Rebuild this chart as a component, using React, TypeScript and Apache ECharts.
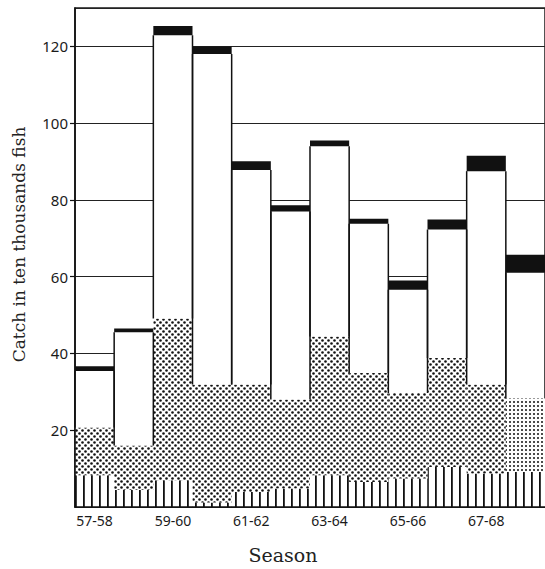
import React, { useEffect, useRef } from "react";
import * as echarts from "echarts";

// Seasons (every other one is labelled on the axis)
const seasons = [
  "57-58", "58-59", "59-60", "60-61", "61-62", "62-63",
  "63-64", "64-65", "65-66", "66-67", "67-68", "68-69",
];
// Catch components, in ten thousands of fish (bottom to top of each bar)
const hatchedCatch = [8.3, 4.4, 7.0, 1.2, 3.9, 4.8, 8.3, 6.5, 7.4, 10.4, 8.7, 9.1];
const stippledCatch = [12.4, 11.6, 42.1, 30.7, 28.0, 23.2, 36.1, 28.4, 22.3, 28.4, 23.2, 19.2];
const openCatch = [14.7, 29.5, 73.8, 86.1, 55.9, 49.0, 49.6, 38.9, 26.9, 33.5, 55.6, 32.7];
const blackCatch = [1.3, 1.0, 2.4, 2.0, 2.3, 1.6, 1.5, 1.3, 2.4, 2.6, 4.0, 4.7];
// y-axis tick labels
const yTicks = [20, 40, 60, 80, 100, 120];

function makePattern(w: number, h: number, draw: (ctx: CanvasRenderingContext2D) => void) {
  const c = document.createElement("canvas");
  c.width = w;
  c.height = h;
  const ctx = c.getContext("2d")!;
  ctx.fillStyle = "#ffffff";
  ctx.fillRect(0, 0, w, h);
  ctx.fillStyle = "#111111";
  draw(ctx);
  return c;
}

export default function App() {
  const ref = useRef<HTMLDivElement>(null);

  useEffect(() => {
    if (!ref.current) return;
    const chart = echarts.init(ref.current, null, { renderer: "svg" });

    const hatch = makePattern(8, 4, (ctx) => {
      ctx.fillRect(3, 0, 1.8, 4);
    });
    const stipple = makePattern(6, 6, (ctx) => {
      const pts = [
        [1.5, 1.5], [4.5, 4.5],
      ];
      pts.forEach(([x, y]) => {
        ctx.beginPath();
        ctx.arc(x, y, 1.3, 0, Math.PI * 2);
        ctx.fill();
      });
    });
    const gridDots = makePattern(4, 4, (ctx) => {
      ctx.beginPath();
      ctx.arc(2, 2, 1.0, 0, Math.PI * 2);
      ctx.fill();
    });

    const dotsTop = seasons.map((_, i) => hatchedCatch[i] + stippledCatch[i]);
    const openTop = seasons.map((_, i) => dotsTop[i] + openCatch[i]);

    const axisFont = { fontFamily: "Noto Sans", fontSize: 15, color: "#1a1a1a" };

    chart.setOption({
      animation: false,
      backgroundColor: "#ffffff",
      grid: {
        left: 75,
        top: 8,
        width: 475,
        height: 504,
        show: true,
        borderColor: "#1a1a1a",
        borderWidth: 1.5,
        backgroundColor: "transparent",
      },
      xAxis: {
        type: "category",
        data: seasons,
        z: 10,
        axisLine: { lineStyle: { color: "#111", width: 1.6 } },
        axisTick: { show: false },
        axisLabel: { interval: 1, margin: 6, ...axisFont, fontSize: 14 },
        name: "Season",
        nameLocation: "middle",
        nameGap: 38,
        nameTextStyle: {
          fontFamily: "DejaVu Serif",
          fontSize: 19,
          color: "#222",
          padding: [0, 54, 0, 0],
        },
      },
      yAxis: [
        {
          type: "value",
          min: 0,
          max: 130,
          interval: 20,
          z: 10,
          axisLine: { show: true, lineStyle: { color: "#111", width: 1.6 } },
          axisTick: {
            show: true,
            length: 5,
            customValues: yTicks,
            lineStyle: { color: "#111", width: 1.2 },
          },
          axisLabel: { margin: 7, customValues: yTicks, ...axisFont },
          splitLine: { show: false },
          name: "Catch in ten thousands fish",
          nameLocation: "middle",
          nameGap: 48,
          nameTextStyle: {
            fontFamily: "DejaVu Serif",
            fontSize: 17,
            color: "#222",
            padding: [0, 0, 0, 26],
          },
        },
        {
          type: "value",
          min: 0,
          max: 130,
          interval: 20,
          position: "left",
          z: 0,
          axisLine: { show: false },
          axisTick: { show: false },
          axisLabel: { show: false },
          splitLine: { show: true, lineStyle: { color: "#222", width: 1 } },
        },
      ],
      series: [
        {
          type: "bar",
          name: "hatched",
          stack: "catch",
          barWidth: "100%",
          barCategoryGap: "0%",
          data: hatchedCatch,
          itemStyle: { color: { image: hatch, repeat: "repeat" } },
        },
        {
          type: "bar",
          name: "stippled",
          stack: "catch",
          barWidth: "100%",
          data: stippledCatch.map((v, i) =>
            i === seasons.length - 1
              ? { value: v, itemStyle: { color: { image: gridDots, repeat: "repeat" } } }
              : v
          ),
          itemStyle: { color: { image: stipple, repeat: "repeat" } },
        },
        {
          type: "bar",
          name: "open",
          stack: "catch",
          barWidth: "100%",
          data: openCatch,
          itemStyle: { color: "#ffffff" },
        },
        {
          type: "bar",
          name: "black",
          stack: "catch",
          barWidth: "100%",
          data: blackCatch,
          itemStyle: { color: "#111111" },
        },
        {
          type: "custom",
          name: "outline",
          z: 5,
          data: seasons.map((_, i) => [i, dotsTop[i], openTop[i]]),
          encode: { x: 0, y: [1, 2] },
          renderItem: (params: any, api: any) => {
            const i = api.value(0);
            const lo = api.coord([i, api.value(1)]);
            const hi = api.coord([i, api.value(2)]);
            const w = api.size([1, 0])[0];
            const xl = lo[0] - w / 2;
            const xr = lo[0] + w / 2;
            const style = { stroke: "#111", lineWidth: 1.5 };
            return {
              type: "group",
              children: [
                { type: "line", shape: { x1: xl, y1: lo[1], x2: xl, y2: hi[1] }, style },
                { type: "line", shape: { x1: xr, y1: lo[1], x2: xr, y2: hi[1] }, style },
              ],
            };
          },
        },
      ],
    });

    return () => chart.dispose();
  }, []);

  return (
    <div
      ref={ref}
      style={{ position: "absolute", left: 0, top: 0, width: 545, height: 569 }}
    />
  );
}
